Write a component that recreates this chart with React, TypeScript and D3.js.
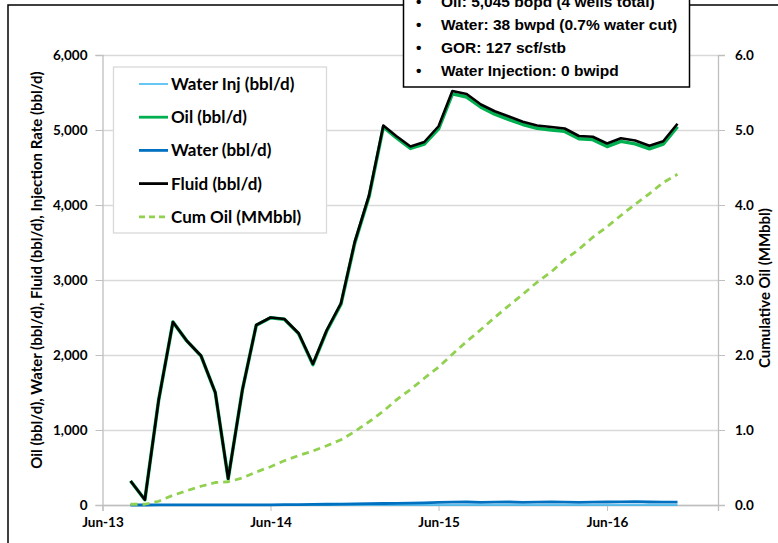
import React, { useEffect, useRef } from 'react'
import * as d3 from 'd3'

const months = [
  '2013-08', '2013-09', '2013-10', '2013-11', '2013-12',
  '2014-01', '2014-02', '2014-03', '2014-04', '2014-05', '2014-06', '2014-07', '2014-08', '2014-09', '2014-10', '2014-11', '2014-12',
  '2015-01', '2015-02', '2015-03', '2015-04', '2015-05', '2015-06', '2015-07', '2015-08', '2015-09', '2015-10', '2015-11', '2015-12',
  '2016-01', '2016-02', '2016-03', '2016-04', '2016-05', '2016-06', '2016-07', '2016-08', '2016-09', '2016-10', '2016-11',
]

const fluid = [
  320, 70, 1400, 2440, 2190,
  1990, 1500, 350, 1540, 2400, 2500, 2480, 2290, 1880, 2330, 2690, 3510,
  4130, 5060, 4920, 4780, 4840, 5050, 5520, 5480, 5340, 5250, 5180, 5110,
  5060, 5040, 5020, 4920, 4910, 4820, 4890, 4860, 4790, 4850, 5083,
]

const water = [
  0, 0, 1, 1, 2,
  2, 2, 1, 2, 3, 3, 4, 5, 8, 10, 12, 15,
  18, 20, 22, 25, 28, 35, 38, 40, 35, 38, 40, 36,
  38, 40, 38, 36, 38, 40, 42, 45, 40, 38, 38,
]

const oil = [
  320, 70, 1399, 2439, 2188,
  1988, 1498, 349, 1538, 2397, 2497, 2476, 2285, 1872, 2320, 2678, 3495,
  4112, 5040, 4898, 4755, 4812, 5015, 5482, 5440, 5305, 5212, 5140, 5074,
  5022, 5000, 4982, 4884, 4872, 4780, 4848, 4815, 4750, 4812, 5045,
]

const waterInj = [
  0, 0, 0, 0, 0,
  0, 0, 0, 0, 0, 0, 0, 0, 0, 0, 0, 0,
  0, 0, 0, 0, 0, 0, 0, 0, 0, 0, 0, 0,
  0, 0, 0, 0, 0, 0, 0, 0, 0, 0, 0,
]

const cumOil = [
  0.01, 0.01, 0.05, 0.13, 0.19,
  0.25, 0.3, 0.31, 0.36, 0.44, 0.51, 0.59, 0.66, 0.72, 0.79, 0.87, 0.98,
  1.11, 1.25, 1.4, 1.54, 1.69, 1.84, 2.01, 2.18, 2.34, 2.5, 2.66, 2.81,
  2.97, 3.11, 3.27, 3.41, 3.57, 3.71, 3.86, 4.01, 4.15, 4.3, 4.41,
]

const leftTicks = [0, 1000, 2000, 3000, 4000, 5000, 6000]
const rightTicks = [0, 1, 2, 3, 4, 5, 6]
const xTicks = ['2013-06', '2014-06', '2015-06', '2016-06']

const legendItems = ['Water Inj (bbl/d)', 'Oil (bbl/d)', 'Water (bbl/d)', 'Fluid (bbl/d)', 'Cum Oil (MMbbl)']
const notes = [
  'Oil: 5,045 bopd (4 wells total)',
  'Water: 38 bwpd (0.7% water cut)',
  'GOR: 127 scf/stb',
  'Water Injection: 0 bwipd',
]

const W = 778
const H = 543
const plot = { left: 102.5, right: 718, top: 55, bottom: 505 }
const parse = d3.timeParse('%Y-%m')
const labelFont = 'Lato, "Open Sans", sans-serif'
const arial = '"Liberation Sans", Arial, sans-serif'

const App = () => {
  const svgRef = useRef<SVGSVGElement>(null)

  useEffect(() => {
    const svg = d3.select(svgRef.current)
    svg.selectAll('*').remove()

    const dates = months.map(m => parse(m) as Date)
    const x = d3.scaleTime()
      .domain([new Date(2013, 5, 1), new Date(2017, 0, 28)])
      .range([plot.left, plot.right])
    const y = d3.scaleLinear().domain([0, 6000]).range([plot.bottom, plot.top])
    const y2 = d3.scaleLinear().domain([0, 6]).range([plot.bottom, plot.top])

    // outer frame
    svg.append('rect')
      .attr('x', 8).attr('y', 5).attr('width', W).attr('height', H)
      .attr('fill', 'white').attr('stroke', '#000').attr('stroke-width', 1.5)

    // gridlines
    const grid = svg.append('g')
      .attr('transform', `translate(${plot.left},0)`)
      .call(d3.axisLeft(y).tickValues(leftTicks).tickSize(-(plot.right - plot.left)).tickFormat(() => ''))
    grid.select('.domain').remove()
    grid.selectAll('line').attr('stroke', '#d9d9d9').attr('stroke-width', 1.3)

    const styleAxis = (g: any) => {
      g.select('.domain').attr('stroke', '#bfbfbf').attr('stroke-width', 1.3)
      g.selectAll('line').attr('stroke', '#bfbfbf')
      g.selectAll('text').attr('font-family', labelFont).attr('font-weight', 'bold').attr('font-size', 13.5).attr('fill', '#000')
    }

    // left axis
    svg.append('g')
      .attr('transform', `translate(${plot.left},0)`)
      .call(d3.axisLeft(y).tickValues(leftTicks).tickSize(7).tickPadding(8).tickFormat(d3.format(',')))
      .call(styleAxis)

    // right axis
    svg.append('g')
      .attr('transform', `translate(${plot.right},0)`)
      .call(d3.axisRight(y2).tickValues(rightTicks).tickSize(7).tickPadding(10).tickFormat(d3.format('.1f')))
      .call(styleAxis)

    // bottom axis
    svg.append('g')
      .attr('transform', `translate(0,${plot.bottom})`)
      .call(d3.axisBottom(x).tickValues(xTicks.map(t => parse(t) as Date)).tickSize(6).tickPadding(6).tickFormat(d3.timeFormat('%b-%y') as any))
      .call(styleAxis)

    // axis titles
    svg.append('text')
      .attr('transform', `translate(42,270) rotate(-90)`)
      .attr('text-anchor', 'middle')
      .attr('font-family', labelFont).attr('font-weight', 'bold').attr('font-size', 15)
      .text('Oil (bbl/d), Water (bbl/d), Fluid (bbl/d), Injection Rate (bbl/d)')
    svg.append('text')
      .attr('transform', `translate(770,288) rotate(-90)`)
      .attr('text-anchor', 'middle')
      .attr('font-family', labelFont).attr('font-weight', 'bold').attr('font-size', 15)
      .text('Cumulative Oil (MMbbl)')

    const line = (vals: number[], scale: d3.ScaleLinear<number, number>) =>
      d3.line<number>().x((_, i) => x(dates[i])).y(v => scale(v))(vals)

    const series = [
      { vals: waterInj, scale: y, color: '#33b5f0', width: 1.5, dash: null },
      { vals: oil, scale: y, color: '#00b050', width: 3.5, dash: null },
      { vals: water, scale: y, color: '#0070c0', width: 2.8, dash: null },
      { vals: fluid, scale: y, color: '#000000', width: 2.6, dash: null },
      { vals: cumOil, scale: y2, color: '#92d050', width: 2.8, dash: '7,5' },
    ]
    series.forEach(s => {
      svg.append('path')
        .attr('d', line(s.vals, s.scale))
        .attr('fill', 'none')
        .attr('stroke', s.color)
        .attr('stroke-width', s.width)
        .attr('stroke-linejoin', 'round')
        .attr('stroke-dasharray', s.dash)
    })

    // legend
    const lg = svg.append('g')
    lg.append('rect')
      .attr('x', 113.5).attr('y', 67).attr('width', 213).attr('height', 166)
      .attr('fill', 'white').attr('stroke', '#d9d9d9').attr('stroke-width', 1.3)
    legendItems.forEach((name, i) => {
      const s = series[i]
      const cy = 84 + i * 33.2
      lg.append('line')
        .attr('x1', 139).attr('x2', 168).attr('y1', cy).attr('y2', cy)
        .attr('stroke', s.color).attr('stroke-width', i === 0 ? 1.5 : 2.8)
        .attr('stroke-dasharray', i === 4 ? '6,4' : null)
      lg.append('text')
        .attr('x', 171).attr('y', cy + 6)
        .attr('font-family', labelFont).attr('font-weight', 'bold').attr('font-size', 17)
        .text(name)
    })

    // notes box
    const nb = svg.append('g')
    nb.append('rect')
      .attr('x', 403.5).attr('y', -10).attr('width', 286).attr('height', 97)
      .attr('fill', 'white').attr('stroke', '#000').attr('stroke-width', 1.5)
    notes.forEach((t, i) => {
      const by = 7 + i * 23
      nb.append('text')
        .attr('x', 416).attr('y', by)
        .attr('font-family', arial).attr('font-weight', 'bold').attr('font-size', 15.5)
        .text('•')
      nb.append('text')
        .attr('x', 441).attr('y', by)
        .attr('font-family', arial).attr('font-weight', 'bold').attr('font-size', 15.5)
        .text(t)
    })
  }, [])

  return (
    <svg ref={svgRef} width={W} height={H}
      style={{ position: 'fixed', left: 0, top: 0, background: 'white' }} />
  )
}

export default App
